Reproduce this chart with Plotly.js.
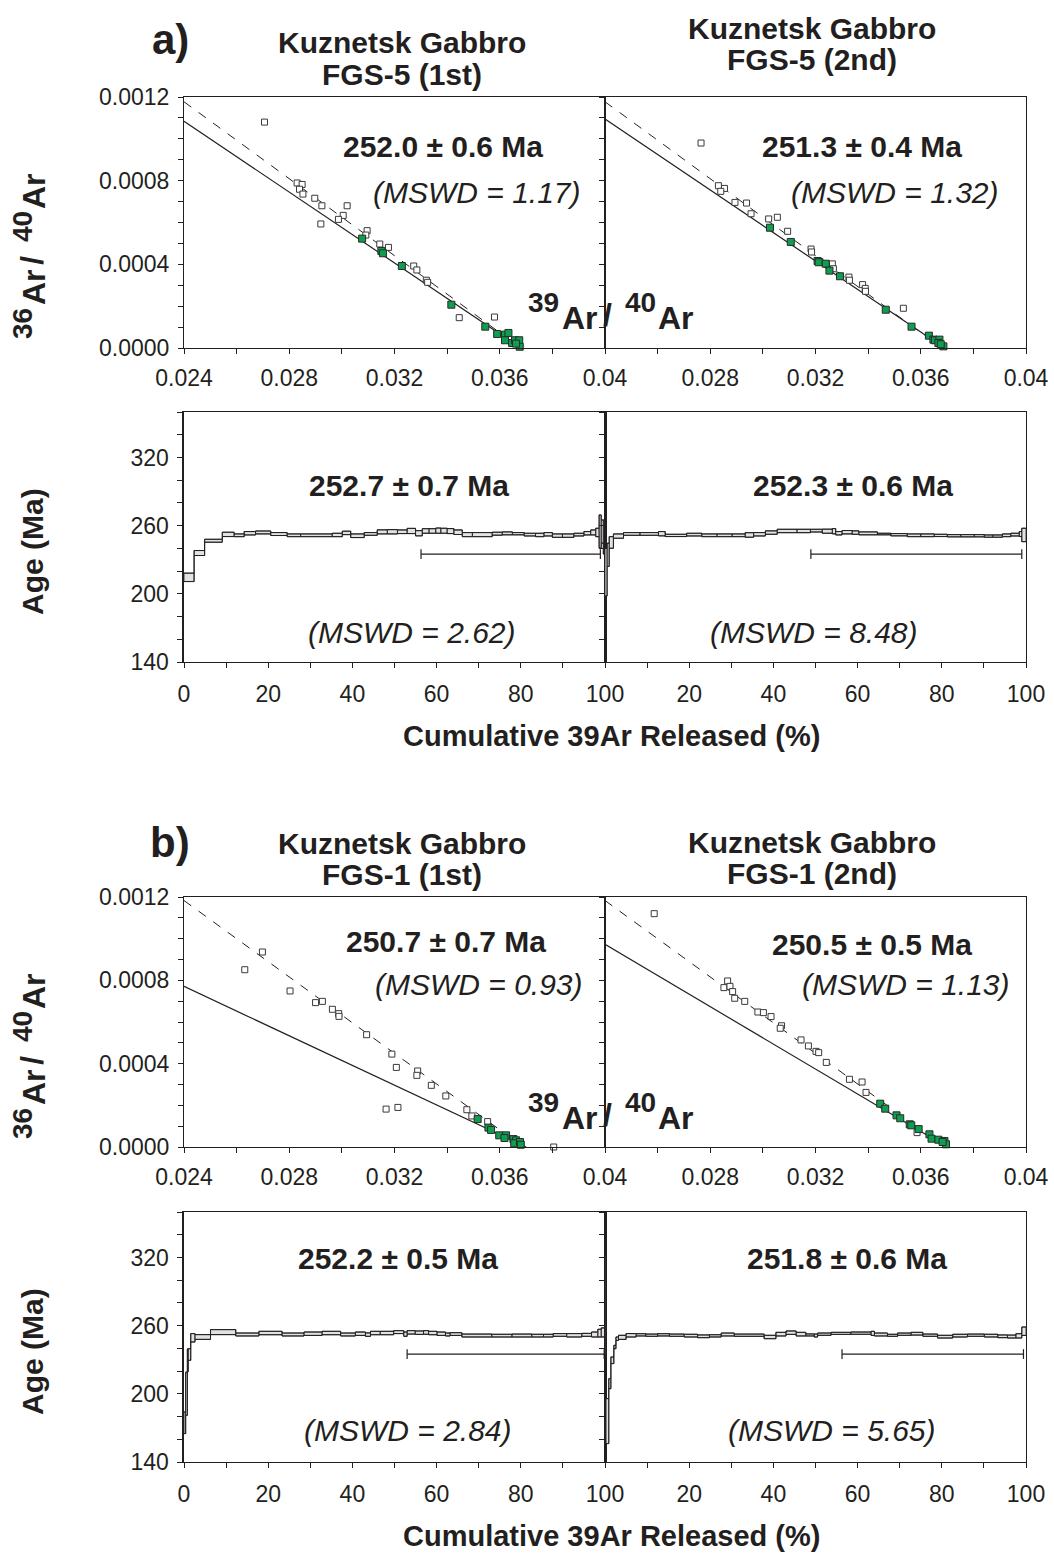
<!DOCTYPE html>
<html>
<head>
<meta charset="utf-8">
<script src="https://cdn.plot.ly/plotly-3.0.1.min.js"></script>
<style>
  html, body { margin: 0; padding: 0; background: #ffffff; }
  #chart { width: 1054px; height: 1557px; }
</style>
</head>
<body>
<div id="chart"></div>
<script>
// ---------------- Inverse isochrons: 39Ar/40Ar (x) vs 36Ar/40Ar (y) ----------------
// Open squares: steps excluded from the fit; green squares: steps used in the fit.

// FGS-5 (1st)
const isoA1OpenX = [0.02706, 0.0283, 0.02849, 0.02839, 0.02852, 0.02897, 0.02924, 0.0302, 0.03005, 0.02987, 0.0292,
                    0.03096, 0.03091, 0.03144, 0.03177, 0.03273, 0.03285, 0.03321, 0.03326, 0.03446, 0.0358];
const isoA1OpenY = [0.00108, 0.000789, 0.000782, 0.000759, 0.000736, 0.000716, 0.00068, 0.00068, 0.000634, 0.000615, 0.000593,
                    0.000561, 0.00054, 0.000497, 0.000481, 0.000392, 0.000373, 0.000324, 0.000314, 0.000145, 0.000148];
const isoA1FitX = [0.03077, 0.0315, 0.03156, 0.03228, 0.03416, 0.03545, 0.0359, 0.0362, 0.03633, 0.0362, 0.03647, 0.03658,
                   0.03674, 0.03676, 0.03662];
const isoA1FitY = [0.000523, 0.000464, 0.000453, 0.000392, 0.000207, 0.000102, 0.000067, 0.000064, 0.000072, 0.000037,
                   0.000024, 0.000037, 0.000037, 0.000006, 0.000021];

// FGS-5 (2nd)
const isoA2OpenX = [0.02765, 0.02831, 0.02854, 0.0284, 0.02894, 0.02938, 0.02955, 0.03022, 0.03055, 0.03094, 0.03183,
                    0.03185, 0.03217, 0.03264, 0.03268, 0.03327, 0.03329, 0.03379, 0.03389, 0.0339, 0.03534];
const isoA2OpenY = [0.00098, 0.000776, 0.000763, 0.000749, 0.000696, 0.000693, 0.000642, 0.000617, 0.000625, 0.000558, 0.000473,
                    0.000459, 0.000413, 0.000402, 0.000379, 0.000339, 0.000324, 0.000303, 0.000285, 0.000271, 0.00019];
const isoA2FitX = [0.03027, 0.03106, 0.03208, 0.03212, 0.03239, 0.03253, 0.03293, 0.03467, 0.03565, 0.03631, 0.03648,
                   0.03654, 0.03671, 0.03667, 0.03686, 0.03676];
const isoA2FitY = [0.000575, 0.000507, 0.000416, 0.00041, 0.000403, 0.00037, 0.000343, 0.000183, 0.000102, 0.000059,
                   0.00004, 0.000037, 0.00004, 0.000024, 0.000008, 0.000018];

// FGS-1 (1st)
const isoB1OpenX = [0.02698, 0.02631, 0.02803, 0.029, 0.02926, 0.02964, 0.02988, 0.02989, 0.03094, 0.0319, 0.03207,
                    0.03288, 0.03285, 0.0334, 0.03395, 0.03168, 0.03213, 0.03475, 0.03494, 0.03554, 0.03805];
const isoB1OpenY = [0.000936, 0.000851, 0.000749, 0.000693, 0.000699, 0.000661, 0.00064, 0.000627, 0.000539, 0.000446, 0.000382,
                    0.000365, 0.000344, 0.000296, 0.000245, 0.000182, 0.00019, 0.000179, 0.000149, 0.000122, 0.0];
const isoB1FitX = [0.03516, 0.03557, 0.03567, 0.03598, 0.03624, 0.03618, 0.03652, 0.03662, 0.03655, 0.03677, 0.0368];
const isoB1FitY = [0.000134, 0.000093, 0.000082, 0.000056, 0.000056, 0.000043, 0.000038, 0.000032, 0.000018, 0.000024, 0.000011];

// FGS-1 (2nd)
const isoB2OpenX = [0.02587, 0.02866, 0.02852, 0.02875, 0.02885, 0.02893, 0.02931, 0.02981, 0.03002, 0.03031, 0.03071,
                    0.03066, 0.03145, 0.03173, 0.03202, 0.03212, 0.03241, 0.03329, 0.03377, 0.03392, 0.03586];
const isoB2OpenY = [0.00112, 0.000797, 0.000765, 0.000771, 0.000746, 0.000714, 0.000699, 0.000648, 0.000645, 0.000626, 0.000582,
                    0.00057, 0.000514, 0.000485, 0.000459, 0.000453, 0.000406, 0.000325, 0.000312, 0.000262, 0.000069];
const isoB2FitX = [0.03446, 0.03465, 0.03508, 0.03522, 0.03558, 0.03564, 0.03592, 0.03633, 0.03641, 0.03667, 0.0369,
                   0.03696, 0.03683];
const isoB2FitY = [0.000208, 0.000184, 0.000152, 0.000138, 0.000109, 0.000104, 0.000086, 0.000061, 0.00004, 0.000035,
                   0.000029, 0.000013, 0.000024];

// Isochron regressions (solid): 36Ar/40Ar intercept and 39Ar/40Ar intercept, per panel
const fitTrapped36 = [0.003117, 0.003132, 0.002194, 0.002769];
const fitIntercept39 = [0.0368, 0.0369, 0.0370, 0.0370];
// Atmospheric reference line (dashed): 36Ar/40Ar = 1/295.5 at 39Ar/40Ar = 0
const atm36 = 1 / 295.5;
const atmIntercept39 = [0.0368, 0.0368, 0.0369, 0.0369];

// ---------------- Age spectra: cumulative 39Ar released (%) vs apparent age (Ma) ----------------
const specA1Edges = [0, 2.4, 4.9, 9.1, 11.9, 14.3, 17.0, 20.6, 24.5, 27.7, 35.2, 37.6, 39.6, 42.8, 45.9, 48.3, 50.7, 53.0,
                     55.0, 56.6, 58.2, 59.8, 61.0, 62.5, 64.1, 66.1, 68.5, 73.2, 75.6, 78.0, 80.8, 83.5, 85.5, 87.5, 89.9,
                     92.6, 95.0, 96.6, 97.8, 98.6, 99.1, 99.6, 100];
const specA1Age = [214.5, 235.9, 246.7, 252.3, 251.5, 253.3, 254.0, 252.6, 251.5, 251.5, 251.8, 253.6, 251.1, 252.7, 254.5,
                   254.6, 254.6, 255.3, 253.3, 255.3, 255.3, 255.6, 255.5, 255.2, 254.2, 252.1, 252.1, 252.9, 253.2, 252.9,
                   252.1, 251.8, 252.4, 251.2, 251.2, 252.1, 253.3, 254.0, 254.0, 254.8, 254.8, 250.0];
const specA1Err = [3.7, 2.2, 1.3, 1.9, 1.2, 1.5, 1.3, 1.3, 1.2, 1.2, 1.5, 1.5, 1.6, 1.2, 1.8, 1.9, 1.6, 2.3, 2.3, 2.0, 2.0,
                   2.3, 2.2, 2.2, 2.0, 1.8, 1.8, 1.3, 1.3, 1.0, 1.2, 1.5, 1.5, 1.5, 1.5, 1.2, 1.5, 2.2, 3.7, 14.6, 10.2, 15.0];

const specA2Edges = [0, 0.5, 1.0, 2.0, 4.4, 8.3, 12.7, 14.3, 19.4, 23.0, 26.6, 30.2, 33.3, 35.3, 38.1, 40.9, 45.6, 48.8,
                     51.6, 54.0, 54.8, 56.3, 58.7, 60.3, 64.7, 67.9, 71.8, 75.0, 78.2, 81.3, 84.5, 87.7, 90.1, 92.1, 94.4,
                     96.4, 98.4, 99.0, 100];
const specA2Age = [219.0, 234.3, 245.2, 250.8, 252.7, 252.7, 252.9, 251.4, 252.1, 251.5, 251.5, 251.5, 251.8, 252.4, 253.9,
                   255.3, 255.3, 255.6, 255.1, 255.1, 253.3, 254.2, 253.9, 253.2, 252.6, 252.0, 251.5, 251.5, 251.4, 251.1,
                   251.1, 251.1, 250.8, 250.8, 251.5, 252.1, 252.6, 251.8];
const specA2Err = [21.0, 10.2, 5.1, 1.9, 1.2, 1.2, 1.9, 1.0, 1.2, 1.2, 1.2, 1.2, 2.0, 1.5, 1.5, 1.5, 1.5, 1.2, 1.8, 2.3,
                   1.5, 1.5, 1.5, 1.3, 0.7, 1.0, 1.2, 1.2, 1.0, 1.0, 1.0, 1.0, 1.0, 1.0, 1.2, 1.2, 2.2, 5.9];

const specB1Edges = [0, 0.4, 0.8, 1.0, 1.6, 2.6, 6.3, 12.3, 17.8, 23.3, 28.5, 32.8, 37.2, 40.7, 43.1, 44.3, 46.6, 49.8, 52.2,
                     53.0, 54.9, 56.9, 58.1, 60.1, 62.1, 63.2, 66.0, 73.1, 77.9, 82.6, 85.4, 87.7, 90.9, 94.5, 96.8, 98.3,
                     99.1, 100];
const specB1Age = [174.5, 200.1, 229.5, 234.6, 249.3, 250.0, 254.3, 252.2, 253.5, 252.2, 252.9, 253.5, 252.2, 252.9, 252.1,
                   253.5, 253.5, 254.3, 252.5, 254.1, 253.8, 254.0, 253.5, 252.9, 252.2, 252.6, 251.3, 251.2, 251.3, 251.2,
                   251.2, 251.8, 251.5, 251.9, 252.2, 253.4, 254.0];
const specB1Err = [9.5, 19.0, 10.0, 5.1, 3.7, 2.1, 2.2, 1.3, 1.5, 1.3, 1.5, 1.5, 1.3, 1.5, 1.5, 1.5, 1.5, 1.3, 1.9, 1.5,
                   1.5, 1.6, 1.5, 1.5, 1.3, 1.2, 1.3, 1.2, 1.3, 1.2, 1.2, 1.2, 1.5, 1.3, 2.2, 3.4, 4.0];

const specB2Edges = [0, 0.2, 0.9, 1.4, 2.1, 2.6, 3.2, 5.0, 7.4, 9.7, 12.5, 15.3, 18.8, 22.0, 24.8, 27.6, 30.7, 37.8, 40.6,
                     43.0, 45.4, 47.7, 49.7, 50.5, 53.7, 58.4, 63.2, 64.0, 67.1, 69.5, 72.7, 75.5, 79.0, 82.6, 86.1, 90.1,
                     93.3, 95.6, 97.6, 99.0, 100];
const specB2Age = [278.0, 176.0, 208.9, 229.5, 241.2, 248.5, 249.7, 251.5, 251.9, 251.6, 251.9, 251.6, 251.2, 250.6, 251.0,
                   252.2, 251.6, 250.0, 252.5, 253.8, 252.5, 251.8, 251.3, 252.5, 253.2, 253.4, 253.2, 252.2, 251.5, 252.5,
                   252.9, 251.6, 250.3, 251.2, 251.6, 251.2, 250.6, 250.4, 251.0, 255.1];
const specB2Err = [44.0, 19.8, 4.4, 2.9, 1.5, 1.5, 1.8, 1.5, 1.0, 1.0, 1.0, 1.0, 1.2, 1.2, 1.0, 1.3, 1.0, 1.5, 1.6, 1.5,
                   1.6, 0.9, 1.3, 1.0, 0.9, 1.0, 1.8, 1.3, 0.9, 1.0, 1.2, 1.0, 1.2, 1.2, 1.0, 1.2, 1.2, 1.3, 1.9, 3.7];

// Plateau extent (% 39Ar) for each spectrum, and the age at which its marker bar is drawn
const plateauStart = [56.3, 48.9, 53.0, 56.3];
const plateauEnd = [98.9, 99.0, 99.8, 99.4];
const plateauBarAge = 235;

// Result labels
const sampleTitles = ['FGS-5 (1st)', 'FGS-5 (2nd)', 'FGS-1 (1st)', 'FGS-1 (2nd)'];
const isochronAges = ['252.0 ± 0.6 Ma', '251.3 ± 0.4 Ma', '250.7 ± 0.7 Ma', '250.5 ± 0.5 Ma'];
const isochronMswd = ['(MSWD = 1.17)', '(MSWD = 1.32)', '(MSWD = 0.93)', '(MSWD = 1.13)'];
const plateauAges = ['252.7 ± 0.7 Ma', '252.3 ± 0.6 Ma', '252.2 ± 0.5 Ma', '251.8 ± 0.6 Ma'];
const plateauMswd = ['(MSWD = 2.62)', '(MSWD = 8.48)', '(MSWD = 2.84)', '(MSWD = 5.65)'];

// Axis ticks: labelled values and the finer unlabelled tick marks
const isoXLabelVals = [0.024, 0.028, 0.032, 0.036, 0.040];
const isoXLabels = ['0.024', '0.028', '0.032', '0.036', '0.04'];
const isoXMinor = [24, 26, 28, 30, 32, 34, 36, 38, 40].map(v => v / 1000);
const isoYLabelVals = [0, 0.0004, 0.0008, 0.0012];
const isoYLabels = ['0.0000', '0.0004', '0.0008', '0.0012'];
const isoYMinor = [0, 1, 2, 3, 4, 5, 6, 7, 8, 9, 10, 11, 12].map(v => v / 10000);
const specXLabelVals = [0, 20, 40, 60, 80, 100];
const specXLabels = ['0', '20', '40', '60', '80', '100'];
const specXMinor = [0, 10, 20, 30, 40, 50, 60, 70, 80, 90, 100];
const specYLabelVals = [140, 200, 260, 320];
const specYLabels = ['140', '200', '260', '320'];
const specYMinor = [140, 160, 180, 200, 220, 240, 260, 280, 300, 320, 340, 360];

// ---------------- drawing ----------------
const W = 1054, H = 1557;
const INK = '#231f20';
const GREEN = '#0e9e4f';
const FONT = 'Liberation Sans, Arial, Helvetica, sans-serif';
const ISO_X_RANGE = [0.024, 0.040];

const traces = [];

// an isochron panel on axis pair (xa, ya)
function isochronPanel(p, xa, ya, openX, openY, fitX, fitY) {
  const x0 = ISO_X_RANGE[0];
  // atmospheric reference line
  const ax = [x0, atmIntercept39[p]];
  traces.push({
    type: 'scatter', mode: 'lines', xaxis: xa, yaxis: ya, hoverinfo: 'skip',
    x: ax, y: ax.map(v => atm36 * (1 - v / atmIntercept39[p])),
    line: { color: INK, width: 1, dash: 'dash' }
  });
  // regression through the fitted steps
  const fx = [x0, fitIntercept39[p]];
  traces.push({
    type: 'scatter', mode: 'lines', xaxis: xa, yaxis: ya, hoverinfo: 'skip',
    x: fx, y: fx.map(v => fitTrapped36[p] * (1 - v / fitIntercept39[p])),
    line: { color: INK, width: 1.2 }
  });
  traces.push({
    type: 'scatter', mode: 'markers', xaxis: xa, yaxis: ya, cliponaxis: false,
    x: openX, y: openY,
    marker: { symbol: 'square', size: 6, color: '#ffffff', line: { color: '#3a3a3a', width: 1 } }
  });
  traces.push({
    type: 'scatter', mode: 'markers', xaxis: xa, yaxis: ya, cliponaxis: false,
    x: fitX, y: fitY,
    marker: { symbol: 'square', size: 7, color: GREEN, line: { color: '#2a2a2a', width: 1 } }
  });
}

// an age-spectrum panel: one box (age ± error) per heating step, joined as a step outline
function spectrumPanel(p, xa, ya, edges, ages, errs) {
  const x = [], y = [];
  const top = [], bot = [];
  for (let i = 0; i < ages.length; i++) {
    const a = edges[i], b = edges[i + 1];
    const lo = ages[i] - errs[i], hi = ages[i] + errs[i];
    x.push(a, b, b, a, a, null);
    y.push(lo, lo, hi, hi, lo, null);
    top.push(hi); bot.push(lo);
  }
  top.push(top[top.length - 1]);
  bot.push(bot[bot.length - 1]);
  traces.push({
    type: 'scatter', mode: 'lines', xaxis: xa, yaxis: ya, hoverinfo: 'skip',
    x, y, fill: 'toself', fillcolor: '#e2e2e2', connectgaps: false,
    line: { color: INK, width: 0.8 }
  });
  [top, bot].forEach(edge => traces.push({
    type: 'scatter', mode: 'lines', xaxis: xa, yaxis: ya, hoverinfo: 'skip',
    x: edges, y: edge, line: { color: INK, width: 1, shape: 'hv' }
  }));
  traces.push({
    type: 'scatter', mode: 'lines+markers', xaxis: xa, yaxis: ya, hoverinfo: 'skip',
    x: [plateauStart[p], plateauEnd[p]], y: [plateauBarAge, plateauBarAge],
    line: { color: INK, width: 1.2 },
    marker: { symbol: 'line-ns', size: 7, line: { color: INK, width: 1.2 } }
  });
}

isochronPanel(0, 'x', 'y', isoA1OpenX, isoA1OpenY, isoA1FitX, isoA1FitY);
isochronPanel(1, 'x2', 'y2', isoA2OpenX, isoA2OpenY, isoA2FitX, isoA2FitY);
spectrumPanel(0, 'x3', 'y3', specA1Edges, specA1Age, specA1Err);
spectrumPanel(1, 'x4', 'y4', specA2Edges, specA2Age, specA2Err);
isochronPanel(2, 'x5', 'y5', isoB1OpenX, isoB1OpenY, isoB1FitX, isoB1FitY);
isochronPanel(3, 'x6', 'y6', isoB2OpenX, isoB2OpenY, isoB2FitX, isoB2FitY);
spectrumPanel(2, 'x7', 'y7', specB1Edges, specB1Age, specB1Err);
spectrumPanel(3, 'x8', 'y8', specB2Edges, specB2Age, specB2Err);

// ---------------- layout ----------------
const px = v => v / W;
const py = v => 1 - v / H;
const colL = [px(184), px(605)];
const colR = [px(605), px(1026)];
const rowIsoA = [py(348), py(97)];
const rowSpecA = [py(662), py(412)];
const rowIsoB = [py(1147), py(897)];
const rowSpecB = [py(1462), py(1212)];

// showLabels: true = all labels, 'skipFirst' = drop the first label, false = tick marks only
function baseAxis(range, labelVals, labels, minorVals, showLabels, standoff, extra) {
  const keep = showLabels === 'skipFirst' ? (v, i) => i > 0 : () => showLabels !== false;
  return Object.assign({
    range, showline: true, mirror: true, linecolor: INK, linewidth: 1,
    ticks: 'outside', ticklen: 5, tickwidth: 1, tickcolor: INK,
    showgrid: false, zeroline: false, fixedrange: true,
    tickmode: 'array',
    tickvals: labelVals.filter(keep),
    ticktext: labels.filter(keep),
    ticklabelstandoff: standoff,
    minor: { tickmode: 'array', tickvals: minorVals, ticks: 'outside', ticklen: 5, tickwidth: 1, tickcolor: INK, showgrid: false },
    tickfont: { family: FONT, size: 23, color: INK }
  }, extra || {});
}

const isoX = (domain, anchor, show) => baseAxis(ISO_X_RANGE, isoXLabelVals, isoXLabels, isoXMinor, show, 4, { domain, anchor });
const isoY = (domain, anchor, show) => baseAxis([0, 0.0012], isoYLabelVals, isoYLabels, isoYMinor, show, 4, { domain, anchor });
const specX = (domain, anchor, show) => baseAxis([0, 100], specXLabelVals, specXLabels, specXMinor, show, 6, { domain, anchor });
const specY = (domain, anchor, show) => baseAxis([140, 360], specYLabelVals, specYLabels, specYMinor, show, 4,
  { domain, anchor, linewidth: show ? 1.6 : 1 });

const annotations = [];
function note(text, x, y, size, extra) {
  annotations.push(Object.assign({
    text, xref: 'paper', yref: 'paper', x: px(x), y: py(y),
    xanchor: 'center', yanchor: 'middle', showarrow: false,
    font: { family: FONT, size, color: INK }
  }, extra || {}));
}

// isotope-ratio label "ⁿAr / ᵐAr" with raised mass numbers;
// pieces are laid out left→right (horizontal) or bottom→top (rotated)
function ratioLabel(massA, massB, cx, cy, rotated) {
  const pieces = [
    { t: massA, size: 28, along: -68, raise: 16 },
    { t: 'Ar', size: 32, along: -31, raise: 0 },
    { t: '/', size: 32, along: -4, raise: 3 },
    { t: massB, size: 28, along: 29, raise: 16 },
    { t: 'Ar', size: 32, along: 65, raise: 0 }
  ];
  pieces.forEach(pc => {
    if (rotated) {
      note('<b>' + pc.t + '</b>', cx - pc.raise * 0.75, cy - pc.along, pc.size, { textangle: -90 });
    } else {
      note('<b>' + pc.t + '</b>', cx + pc.along, cy - pc.raise, pc.size);
    }
  });
}

// section a
note('<b>a)</b>', 170, 40, 42);
note('<b>Kuznetsk Gabbro</b>', 402, 43, 30);
note('<b>' + sampleTitles[0] + '</b>', 402, 74, 30);
note('<b>Kuznetsk Gabbro</b>', 812, 28, 30);
note('<b>' + sampleTitles[1] + '</b>', 812, 59, 30);
ratioLabel('36', '40', 34, 256, true);
ratioLabel('39', '40', 611, 318, false);
note('<b>' + isochronAges[0] + '</b>', 443, 147, 30);
note('<i>' + isochronMswd[0] + '</i>', 477, 192, 30);
note('<b>' + isochronAges[1] + '</b>', 862, 147, 30);
note('<i>' + isochronMswd[1] + '</i>', 895, 192, 30);
note('<b>Age (Ma)</b>', 32, 552, 30, { textangle: -90 });
note('<b>' + plateauAges[0] + '</b>', 409, 485, 30);
note('<i>' + plateauMswd[0] + '</i>', 412, 632, 30);
note('<b>' + plateauAges[1] + '</b>', 853, 485, 30);
note('<i>' + plateauMswd[1] + '</i>', 814, 632, 30);
note('<b>Cumulative 39Ar Released (%)</b>', 611, 736, 29);

// section b
note('<b>b)</b>', 170, 842, 42);
note('<b>Kuznetsk Gabbro</b>', 402, 843, 30);
note('<b>' + sampleTitles[2] + '</b>', 402, 874, 30);
note('<b>Kuznetsk Gabbro</b>', 812, 842, 30);
note('<b>' + sampleTitles[3] + '</b>', 812, 873, 30);
ratioLabel('36', '40', 34, 1056, true);
ratioLabel('39', '40', 611, 1118, false);
note('<b>' + isochronAges[2] + '</b>', 446, 942, 30);
note('<i>' + isochronMswd[2] + '</i>', 479, 985, 30);
note('<b>' + isochronAges[3] + '</b>', 872, 944, 30);
note('<i>' + isochronMswd[3] + '</i>', 906, 985, 30);
note('<b>Age (Ma)</b>', 32, 1352, 30, { textangle: -90 });
note('<b>' + plateauAges[2] + '</b>', 398, 1258, 30);
note('<i>' + plateauMswd[2] + '</i>', 408, 1430, 30);
note('<b>' + plateauAges[3] + '</b>', 847, 1258, 30);
note('<i>' + plateauMswd[3] + '</i>', 832, 1430, 30);
note('<b>Cumulative 39Ar Released (%)</b>', 611, 1536, 29);

const layout = {
  width: W, height: H,
  margin: { l: 0, r: 0, t: 0, b: 0 },
  paper_bgcolor: '#ffffff', plot_bgcolor: '#ffffff',
  showlegend: false,
  font: { family: FONT, color: INK },
  xaxis: isoX(colL, 'y', true), yaxis: isoY(rowIsoA, 'x', true),
  xaxis2: isoX(colR, 'y2', 'skipFirst'), yaxis2: isoY(rowIsoA, 'x2', false),
  xaxis3: specX(colL, 'y3', true), yaxis3: specY(rowSpecA, 'x3', true),
  xaxis4: specX(colR, 'y4', 'skipFirst'), yaxis4: specY(rowSpecA, 'x4', false),
  xaxis5: isoX(colL, 'y5', true), yaxis5: isoY(rowIsoB, 'x5', true),
  xaxis6: isoX(colR, 'y6', 'skipFirst'), yaxis6: isoY(rowIsoB, 'x6', false),
  xaxis7: specX(colL, 'y7', true), yaxis7: specY(rowSpecB, 'x7', true),
  xaxis8: specX(colR, 'y8', 'skipFirst'), yaxis8: specY(rowSpecB, 'x8', false),
  annotations
};

Plotly.newPlot('chart', traces, layout, { staticPlot: true, displayModeBar: false });
</script>
</body>
</html>
